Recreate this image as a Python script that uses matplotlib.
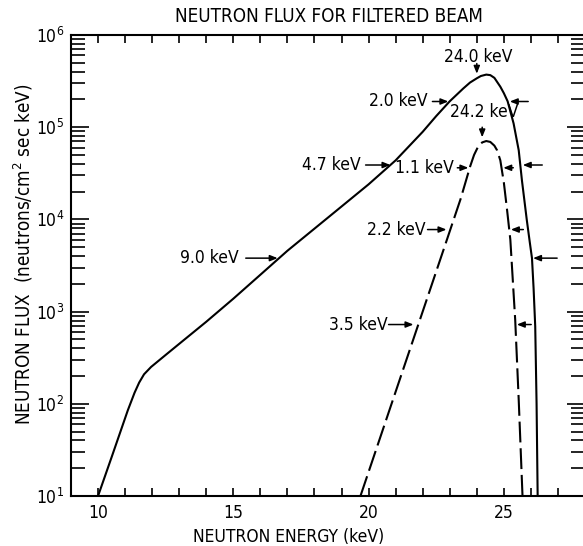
import matplotlib
matplotlib.use("Agg")
import matplotlib.pyplot as plt
from matplotlib.ticker import MultipleLocator, LogLocator, NullFormatter

plt.rcParams["font.family"] = ["DejaVu Sans"]
plt.rcParams["font.stretch"] = "condensed"
plt.rcParams["mathtext.fontset"] = "dejavusans"

# unfiltered-window spectrum (solid) and narrow filtered line (dashed)
solid_energy = [10.0, 10.5, 11.1, 11.35, 11.52, 11.7, 11.96, 12.5, 13.0, 14.0,
                15.0, 16.0, 17.0, 18.0, 19.0, 20.0, 21.0, 22.0, 22.5, 23.0,
                23.5, 23.75, 24.0, 24.15, 24.35, 24.5, 24.65, 24.87, 25.0,
                25.14, 25.36, 25.55, 25.67, 25.85, 25.96, 26.04, 26.1, 26.16,
                26.21, 26.25]
solid_flux = [10, 26.3, 85, 132, 170, 209, 251, 339, 447, 776,
              1380, 2510, 4570, 7940, 13800, 24000, 43700, 89100, 132000, 191000,
              263000, 305000, 339000, 359000, 372000, 367000, 343000, 275000, 234000,
              191000, 110000, 56200, 26300, 9770, 5620, 3800, 1780, 692,
              100, 10]

dashed_energy = [19.7, 22.77, 23.4, 23.76, 23.9, 24.05, 24.2, 24.35, 24.5,
                 24.65, 24.75, 24.87, 25.0, 25.12, 25.24, 25.42, 25.55, 25.69]
dashed_flux = [10, 4680, 16600, 38000, 50100, 61700, 68400, 70800, 69200,
               63100, 56200, 43700, 25100, 12600, 6030, 813, 110, 10]

# width markers: label, flux level, text right edge, left arrow tail/tip, right arrow tail/tip
width_labels = ["9.0 keV", "4.7 keV", "2.0 keV", "3.5 keV", "2.2 keV", "1.1 keV"]
width_level = [3800, 38900, 190000, 724, 7760, 36300]
width_text_x = [15.20, 19.70, 22.18, 20.72, 22.10, 23.14]
left_tail = [15.46, 19.89, 22.36, 20.74, 22.18, 23.28]
left_tip = [16.64, 20.81, 22.95, 21.66, 22.88, 23.69]
right_tail = [26.97, 26.42, 25.90, 26.01, 25.72, 25.35]
right_tip = [26.08, 25.70, 25.22, 25.48, 25.26, 24.98]

# peak position markers
peak_labels = ["24.0 keV", "24.2 keV"]
peak_energy = [24.0, 24.2]
peak_text_flux = [575000, 145000]
peak_arrow_tail = [490000, 100000]
peak_arrow_tip = [380000, 77600]

fig = plt.figure(figsize=(5.83, 5.46), dpi=100)
ax = fig.add_axes([71 / 583, 1 - 496 / 546, (585 - 71) / 583, (496 - 35) / 546])

ax.semilogy(solid_energy, solid_flux, color="black", lw=1.5)
ax.semilogy(dashed_energy, dashed_flux, color="black", lw=1.5,
            dashes=(10, 2.8))

ax.set_xlim(9, 28)
ax.set_ylim(10, 1e6)

arrow = dict(arrowstyle="-|>,head_length=0.45,head_width=0.18", color="black",
             lw=1.1, shrinkA=0, shrinkB=0)
for lab, lev, tx, lt, lp, rt, rp in zip(width_labels, width_level, width_text_x,
                                        left_tail, left_tip, right_tail, right_tip):
    ax.text(tx, lev, lab, ha="right", va="center", fontsize=12.5)
    ax.annotate("", xy=(lp, lev), xytext=(lt, lev), arrowprops=arrow)
    ax.annotate("", xy=(rp, lev), xytext=(rt, lev), arrowprops=arrow)

for lab, e, tf, at, ap in zip(peak_labels, peak_energy, peak_text_flux,
                              peak_arrow_tail, peak_arrow_tip):
    ax.text(e + 0.06, tf, lab, ha="center", va="center", fontsize=12.5)
    ax.annotate("", xy=(e, ap), xytext=(e, at), arrowprops=arrow)

ax.xaxis.set_major_locator(MultipleLocator(5))
ax.xaxis.set_minor_locator(MultipleLocator(1))
ax.yaxis.set_major_locator(LogLocator(base=10))
ax.yaxis.set_minor_locator(LogLocator(base=10, subs=range(2, 10)))
ax.yaxis.set_minor_formatter(NullFormatter())

ax.tick_params(axis="x", which="both", direction="in", top=True, length=6,
               width=1.2, labelsize=12.5, pad=6)
ax.tick_params(axis="y", which="major", direction="in", right=True, length=13,
               width=1.2, labelsize=12.5, pad=5)
ax.tick_params(axis="y", which="minor", direction="in", right=True, length=10,
               width=1.2)
for sp in ax.spines.values():
    sp.set_linewidth(1.5)

fig.text(329 / 583, 1 - 17 / 546, "NEUTRON FLUX FOR FILTERED BEAM",
         ha="center", va="center", fontsize=13.5)
fig.text(289 / 583, 1 - 537 / 546, "NEUTRON ENERGY (keV)",
         ha="center", va="center", fontsize=12.5)
fig.text(23 / 583, 1 - 254 / 546, r"NEUTRON FLUX  (neutrons/cm$^{2}$ sec keV)",
         ha="center", va="center", rotation=90, fontsize=13.5)

fig.savefig("out.png", dpi=100)
